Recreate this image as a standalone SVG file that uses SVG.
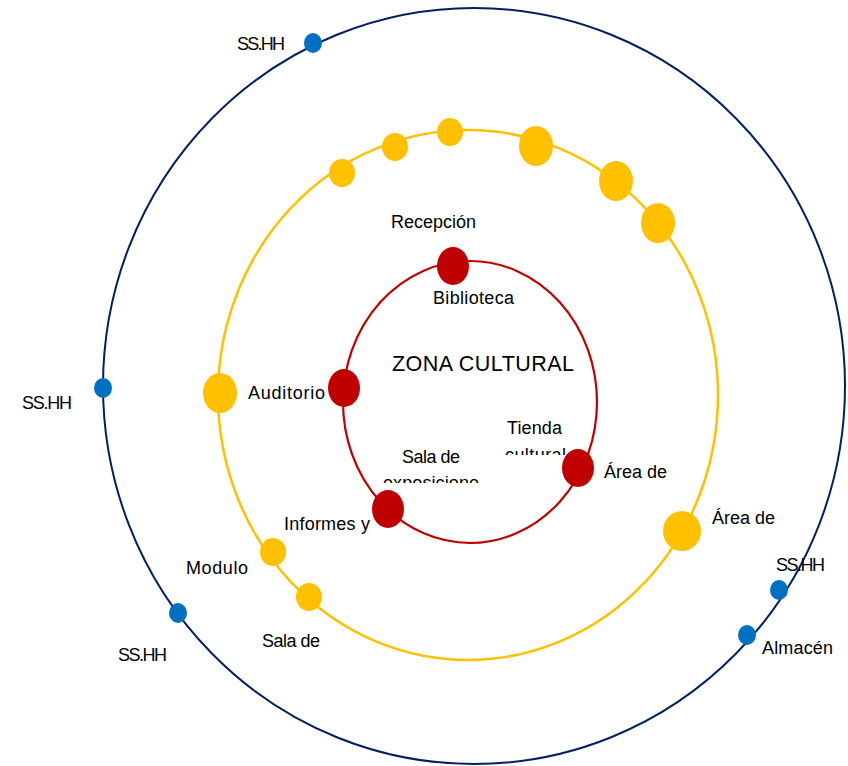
<svg xmlns="http://www.w3.org/2000/svg" width="848" height="766" viewBox="0 0 848 766">
<style>
text{font-family:"Liberation Sans",Arial,sans-serif;font-size:18px;fill:#000}
.big{font-size:21.5px}
.ring{fill:none}
.y{fill:#FFC000}
.r{fill:#C00000}
.b{fill:#0070C0}
</style>
<defs>
<clipPath id="c1"><rect x="490" y="430" width="100" height="25"/></clipPath>
<clipPath id="c2"><rect x="370" y="465" width="120" height="18"/></clipPath>
</defs>
<rect width="848" height="766" fill="#fff"/>
<g id="connectors">
<ellipse class="ring" cx="474" cy="386" rx="371" ry="378" stroke="#002060" stroke-width="2"/>
<ellipse class="ring" cx="468" cy="395" rx="250" ry="265" stroke="#FFC000" stroke-width="2.5"/>
<ellipse class="ring" cx="470" cy="402" rx="127" ry="141" stroke="#C00000" stroke-width="2.2"/>
</g>
<g id="blue-nodes">
<ellipse id="b1" class="b" cx="313" cy="43" rx="9" ry="10"/>
<ellipse id="b2" class="b" cx="103" cy="388" rx="9" ry="10"/>
<ellipse id="b3" class="b" cx="178" cy="613" rx="9" ry="10"/>
<ellipse id="b4" class="b" cx="779" cy="590" rx="9" ry="10"/>
<ellipse id="b5" class="b" cx="747" cy="635" rx="9" ry="10"/>
</g>
<g id="yellow-nodes">
<ellipse id="y1" class="y" cx="342" cy="173" rx="13" ry="14"/>
<ellipse id="y2" class="y" cx="395" cy="147" rx="13" ry="14"/>
<ellipse id="y3" class="y" cx="450" cy="132" rx="13" ry="14"/>
<ellipse id="y4" class="y" cx="536" cy="146" rx="17" ry="20"/>
<ellipse id="y5" class="y" cx="616" cy="181" rx="17" ry="20"/>
<ellipse id="y6" class="y" cx="658" cy="223" rx="17" ry="20"/>
<ellipse id="y7" class="y" cx="220" cy="393" rx="17" ry="20"/>
<ellipse id="y8" class="y" cx="273" cy="552" rx="13" ry="14"/>
<ellipse id="y9" class="y" cx="309" cy="597" rx="13" ry="14"/>
<ellipse id="y10" class="y" cx="682" cy="531" rx="19" ry="20"/>
</g>
<g id="red-nodes">
<ellipse id="r1" class="r" cx="453" cy="266" rx="16" ry="19"/>
<ellipse id="r2" class="r" cx="344" cy="388" rx="16" ry="19"/>
<ellipse id="r3" class="r" cx="578" cy="468" rx="16" ry="19"/>
<ellipse id="r4" class="r" cx="388" cy="509" rx="16" ry="19"/>
</g>
<g id="labels">
<text x="237" y="50" textLength="48">SS.HH</text>
<text x="22" y="409" textLength="50">SS.HH</text>
<text x="118" y="661" textLength="49">SS.HH</text>
<text x="776" y="571" textLength="49">SS.HH</text>
<text x="762" y="654" textLength="71">Almacén</text>
<text x="391" y="228" textLength="85">Recepción</text>
<text x="433" y="304" textLength="81">Biblioteca</text>
<text class="big" x="392" y="371" textLength="182">ZONA CULTURAL</text>
<text x="248" y="399" textLength="77">Auditorio</text>
<text x="507" y="434" textLength="55">Tienda</text>
<text x="505" y="461" textLength="61" clip-path="url(#c1)">cultural</text>
<text x="402" y="463" textLength="58">Sala de</text>
<text x="383" y="489" textLength="96" clip-path="url(#c2)">exposicione</text>
<text x="604" y="478" textLength="63">Área de</text>
<text x="712" y="524" textLength="63">Área de</text>
<text x="284" y="530" textLength="86">Informes y</text>
<text x="186" y="574" textLength="62">Modulo</text>
<text x="262" y="647" textLength="58">Sala de</text>
</g>
</svg>
